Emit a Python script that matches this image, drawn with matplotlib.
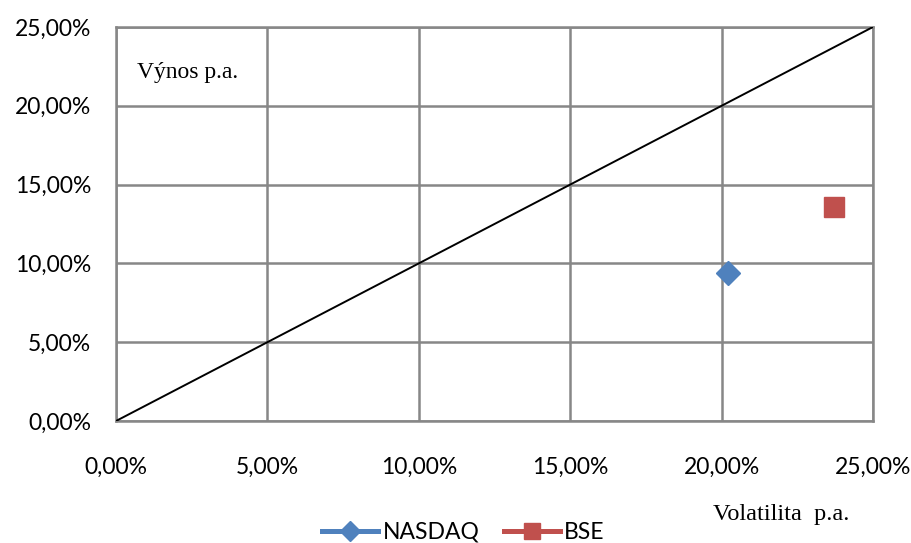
import matplotlib.pyplot as plt
from matplotlib.lines import Line2D
from matplotlib.ticker import FuncFormatter, MultipleLocator

# data (volatility p.a., return p.a.) in %
names = ['NASDAQ', 'BSE']
volatility = [20.22, 23.71]
returns = [9.39, 13.58]
colors = ['#4F81BD', '#C0504D']
markers = ['D', 's']
diag_x = [0, 25]
diag_y = [0, 25]

fig = plt.figure(figsize=(9.12, 5.43), dpi=100)
ax = fig.add_axes([0.1272, 0.2247, 0.830, 0.7256])

ax.plot(diag_x, diag_y, color='black', lw=1.4, zorder=3)
for name, v, r, c, m in zip(names, volatility, returns, colors, markers):
    ax.plot([v], [r], ls='none', marker=m, color=c,
            markersize=14 if m == 's' else 12, zorder=4)

ax.set_xlim(0, 25)
ax.set_ylim(0, 25)
ax.xaxis.set_major_locator(MultipleLocator(5))
ax.yaxis.set_major_locator(MultipleLocator(5))
fmt = FuncFormatter(lambda v, p: ('%.2f%%' % v).replace('.', ','))
ax.xaxis.set_major_formatter(fmt)
ax.yaxis.set_major_formatter(fmt)
ax.grid(True, color='#878787', lw=1.8)
ax.set_axisbelow(True)
for s in ax.spines.values():
    s.set_color('#878787')
    s.set_linewidth(1.8)
ax.tick_params(length=0, labelsize=16.5)
for lab in ax.get_xticklabels() + ax.get_yticklabels():
    lab.set_family('Lato')
ax.tick_params(axis='x', pad=26)
ax.tick_params(axis='y', pad=18)

ax.text(0.028, 0.885, 'Výnos p.a.', transform=ax.transAxes,
        family='Liberation Serif', fontsize=17, va='center', ha='left')
fig.text(0.857, 0.052, 'Volatilita  p.a.', family='Liberation Serif',
         fontsize=17.5, ha='center', va='center')

handles = [Line2D([], [], color=c, marker=m, lw=3.6,
                  markersize=11 if m == 's' else 10)
           for c, m in zip(colors, markers)]
fig.legend(handles, names, loc='center', bbox_to_anchor=(0.508, 0.02),
           ncol=2, frameon=False, prop={'family': 'Lato', 'size': 16.5},
           handlelength=2.45, handletextpad=0.2, columnspacing=1.05)

fig.savefig('out.png', dpi=100)
